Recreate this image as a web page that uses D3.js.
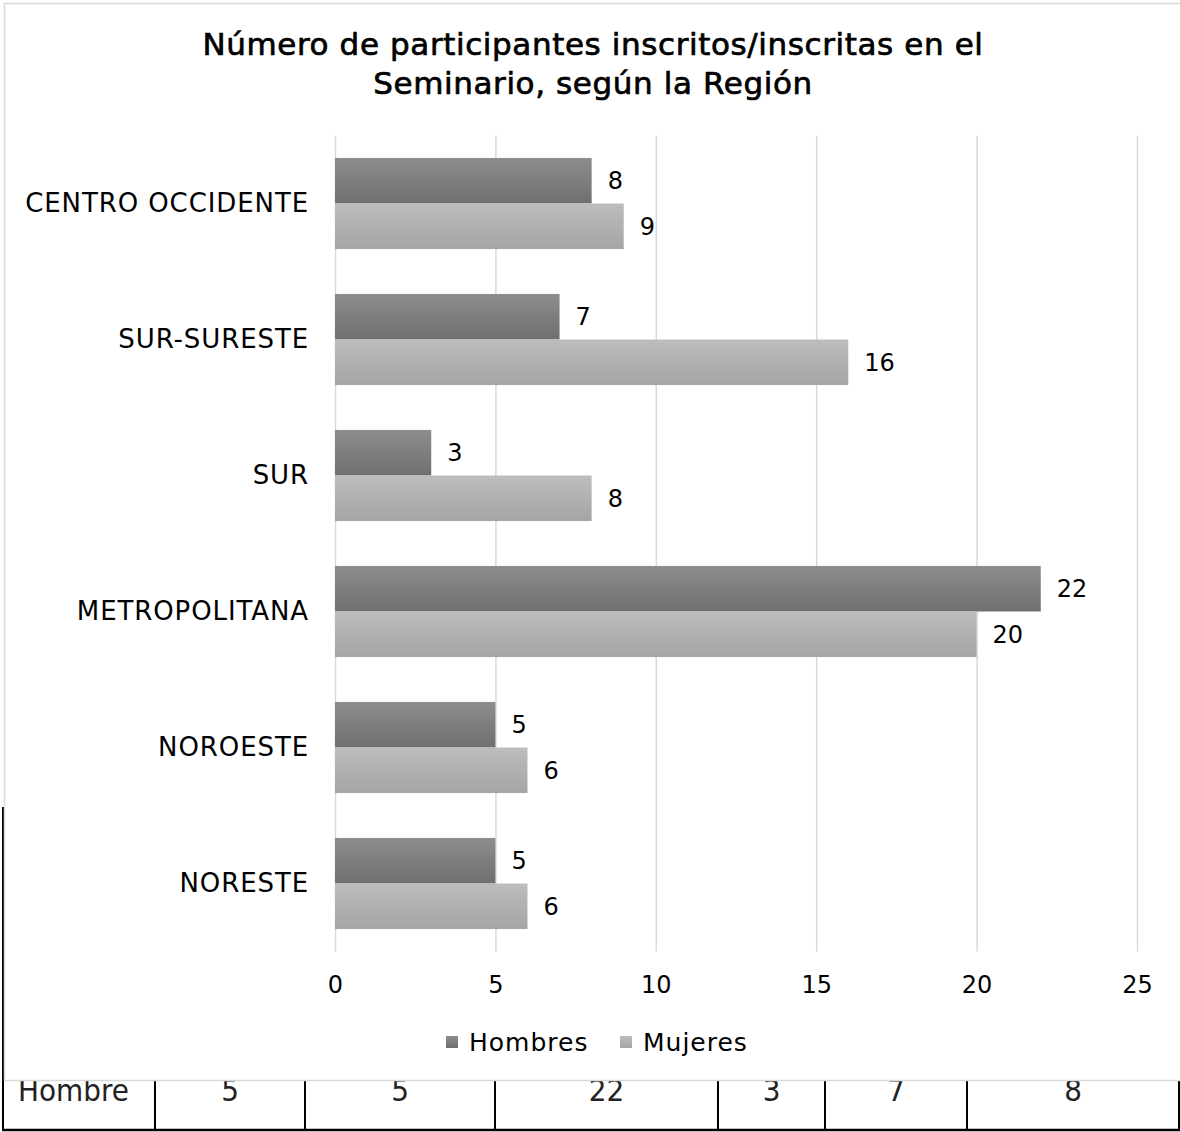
<!DOCTYPE html>
<html><head><meta charset="utf-8">
<script src="https://cdn.jsdelivr.net/npm/d3@7"></script>
<style>
html,body{margin:0;padding:0;background:#fff;}
svg{display:block;}
</style></head>
<body>
<script>
const categories = ["CENTRO OCCIDENTE","SUR-SURESTE","SUR","METROPOLITANA","NOROESTE","NORESTE"];
const seriesNames = ["Hombres","Mujeres"];
const hombres = [8,7,3,22,5,5];
const mujeres = [9,16,8,20,6,6];
const xTicks = [0,5,10,15,20,25];
const titleLines = ["Número de participantes inscritos/inscritas en el","Seminario, según la Región"];
const tableLabel = "Hombre";
const tableValues = [5,5,22,3,7,8];

const W = 1180, H = 1132;
const font = "'DejaVu Sans', 'Noto Sans', sans-serif";
const svg = d3.select("body").append("svg").attr("width", W).attr("height", H);

// gradients
const defs = svg.append("defs");
const grads = [["gH","#8d8d8d","#6f6f6f"],["gM","#bdbdbd","#a5a5a5"]];
grads.forEach(([id,c1,c2])=>{
  const g = defs.append("linearGradient").attr("id",id).attr("x1",0).attr("y1",0).attr("x2",0).attr("y2",1);
  g.append("stop").attr("offset","0%").attr("stop-color",c1);
  g.append("stop").attr("offset","100%").attr("stop-color",c2);
});
const fills = {Hombres:"url(#gH)", Mujeres:"url(#gM)"};

// background table (partially hidden behind chart box)
const colEdges = [3,155,305,495,718,825,967,1179];
const tbl = svg.append("g");
const tblFont = "'Liberation Sans Narrow', 'DejaVu Sans Condensed', sans-serif";
const cells = [tableLabel].concat(tableValues.map(String));
tbl.selectAll("text").data(cells).join("text")
  .attr("x",(d,i)=> i===0 ? 18 : (colEdges[i]+colEdges[i+1])/2)
  .attr("y",1101)
  .attr("text-anchor",(d,i)=> i===0 ? "start":"middle")
  .attr("font-family",tblFont).attr("font-size",31).attr("fill","#222")
  .text(d=>d);
tbl.selectAll("line.col").data(colEdges.slice(1)).join("line").attr("class","col")
  .attr("x1",d=>d).attr("x2",d=>d).attr("y1",1060).attr("y2",1131)
  .attr("stroke","#000").attr("stroke-width",2);
tbl.append("line").attr("x1",3).attr("x2",3).attr("y1",807).attr("y2",1131).attr("stroke","#000").attr("stroke-width",2);
tbl.append("line").attr("x1",2).attr("x2",1180).attr("y1",1130).attr("y2",1130).attr("stroke","#000").attr("stroke-width",2.5);

// chart box
svg.append("rect").attr("x",4.5).attr("y",3.5).attr("width",1200).attr("height",1077)
  .attr("fill","#fff").attr("stroke","#d9d9d9").attr("stroke-width",1.5);

// title
svg.append("g").selectAll("text").data(titleLines).join("text")
  .attr("x",593).attr("y",(d,i)=>55+i*39)
  .attr("text-anchor","middle").attr("font-family",font).attr("font-size",31)
  .attr("letter-spacing",0.6).attr("fill","#000")
  .attr("stroke","#000").attr("stroke-width",0.7).text(d=>d);

// scales
const x = d3.scaleLinear().domain([0,25]).range([335,1137]);
const y0 = d3.scaleBand().domain(categories).range([135.5,951.5]).paddingInner(0.33).paddingOuter(0.165);
const y1 = d3.scaleBand().domain(seriesNames).range([0,y0.bandwidth()]);

// grid
const xAxis = d3.axisBottom(x).tickValues(xTicks).tickSize(-(951.5-135.5)).tickPadding(24);
const gx = svg.append("g").attr("transform","translate(0,951.5)").call(xAxis);
gx.select(".domain").remove();
gx.selectAll(".tick line").attr("stroke","#d9d9d9").attr("stroke-width",1.5);
gx.selectAll(".tick text").attr("font-family",font).attr("font-size",24).attr("fill","#000")
  .attr("y",33).attr("dy","0.35em");

// category labels
const yAxis = d3.axisLeft(y0).tickSize(0).tickPadding(26);
const gy = svg.append("g").attr("transform","translate(335,0)").call(yAxis);
gy.select(".domain").remove();
gy.selectAll(".tick text").attr("font-family",font).attr("font-size",26)
  .attr("letter-spacing",0.9).attr("fill","#000");

// bars
const rows = categories.map((c,i)=>({cat:c, vals:[{s:"Hombres",v:hombres[i]},{s:"Mujeres",v:mujeres[i]}]}));
const grp = svg.append("g").selectAll("g").data(rows).join("g")
  .attr("transform",d=>`translate(0,${y0(d.cat)})`);
grp.selectAll("rect").data(d=>d.vals).join("rect")
  .attr("x",x(0)).attr("y",d=>y1(d.s)).attr("width",d=>x(d.v)-x(0)).attr("height",y1.bandwidth())
  .attr("fill",d=>fills[d.s]);
grp.selectAll("text").data(d=>d.vals).join("text")
  .attr("x",d=>x(d.v)+16).attr("y",d=>y1(d.s)+y1.bandwidth()/2).attr("dy","0.36em")
  .attr("font-family",font).attr("font-size",24).attr("fill","#000").text(d=>d.v);

// legend
const legendX = [446,620];
const lg = svg.append("g").selectAll("g").data(seriesNames).join("g")
  .attr("transform",(d,i)=>`translate(${legendX[i]},1036)`);
lg.append("rect").attr("width",12).attr("height",12).attr("fill",d=>fills[d]);
lg.append("text").attr("x",23).attr("y",6).attr("dy","0.36em")
  .attr("font-family",font).attr("font-size",25).attr("letter-spacing",1).attr("fill","#000").text(d=>d);
</script>
</body></html>
